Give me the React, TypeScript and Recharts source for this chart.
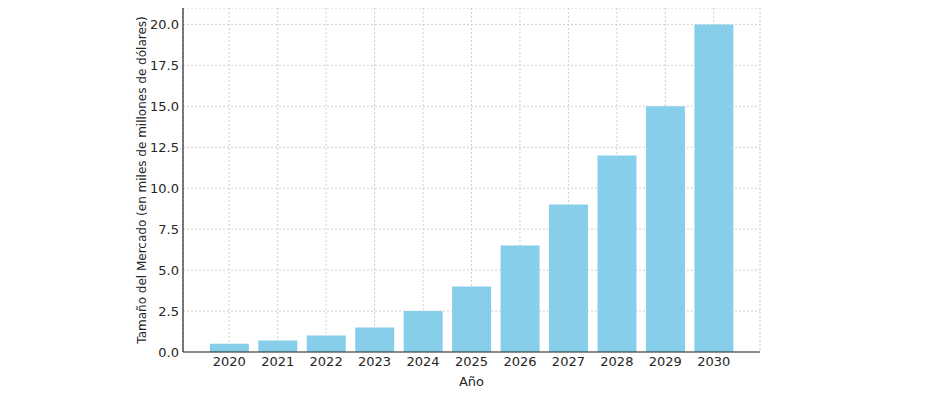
import { Bar, BarChart, CartesianGrid, XAxis, YAxis } from "recharts"

const years = ["2020", "2021", "2022", "2023", "2024", "2025", "2026", "2027", "2028", "2029", "2030"]
const marketSize = [0.5, 0.7, 1.0, 1.5, 2.5, 4.0, 6.5, 9.0, 12.0, 15.0, 20.0]
const yTicks = [0, 2.5, 5, 7.5, 10, 12.5, 15, 17.5, 20]

const data = years.map((year, i) => ({ year, value: marketSize[i] }))

const font = "DejaVu Sans, sans-serif"
const tickStyle = { fontSize: 13, fill: "#262626", fontFamily: font }

export default function App() {
  return (
    <BarChart
      width={932}
      height={392}
      data={data}
      margin={{ top: 0, right: 180, left: 93, bottom: 8 }}
      barCategoryGap="10%"
    >
      <CartesianGrid stroke="#cfcfcf" strokeDasharray="2 2" />
      <XAxis
        dataKey="year"
        height={40}
        padding={{ left: 22, right: 22 }}
        tickLine={false}
        tickSize={0}
        tickMargin={5}
        tick={tickStyle}
        axisLine={{ stroke: "#262626", strokeWidth: 1.2 }}
        label={{ value: "Año", position: "insideBottom", offset: 6, fontSize: 13, fill: "#262626", fontFamily: font }}
      />
      <YAxis
        width={82}
        domain={[0, 21]}
        ticks={yTicks}
        tickFormatter={(v: number) => v.toFixed(1)}
        tickLine={false}
        tickSize={0}
        tickMargin={4}
        tick={tickStyle}
        axisLine={{ stroke: "#262626", strokeWidth: 1.2 }}
        label={{
          value: "Tamaño del Mercado (en miles de millones de dólares)",
          angle: -90,
          position: "center",
          fontSize: 12,
          fill: "#262626",
          fontFamily: font,
        }}
      />
      <Bar dataKey="value" fill="#87CEEB" isAnimationActive={false} />
    </BarChart>
  )
}
